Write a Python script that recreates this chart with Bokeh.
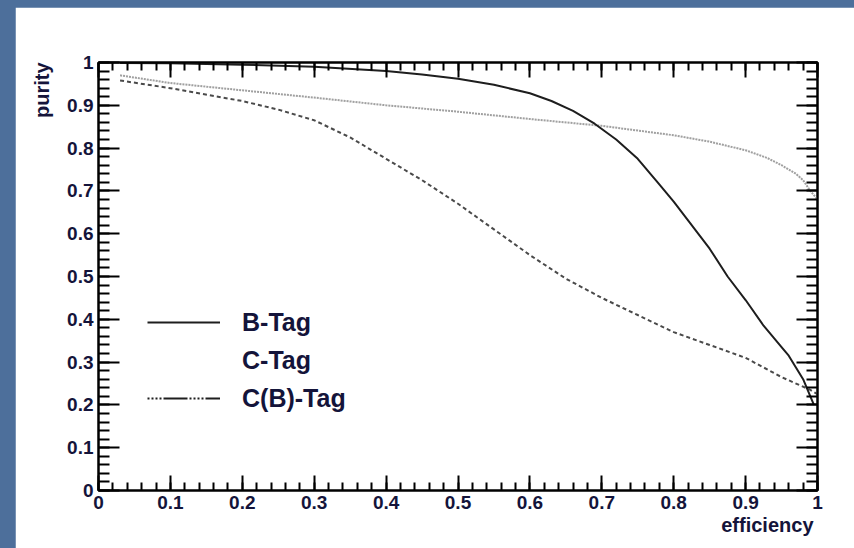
import numpy as np
from bokeh.plotting import figure
from bokeh.models import (LinearAxis, SingleIntervalTicker, CustomJSTickFormatter,
                          Legend, LegendItem, Title, Range1d)
from bokeh.layouts import column
from bokeh.embed import file_html
from bokeh.resources import INLINE

# ---------------- data ----------------
b_eff = [0.03, 0.1, 0.2, 0.3, 0.4, 0.45, 0.5, 0.55, 0.6, 0.63, 0.66, 0.69, 0.72,
         0.75, 0.78, 0.8, 0.85, 0.875, 0.9, 0.925, 0.95, 0.96, 0.98, 0.995]
b_pur = [0.999, 0.998, 0.995, 0.99, 0.98, 0.972, 0.962, 0.948, 0.928, 0.91,
         0.887, 0.857, 0.82, 0.775, 0.715, 0.675, 0.565, 0.50, 0.445, 0.385,
         0.335, 0.315, 0.26, 0.20]

c_eff = [0.03, 0.1, 0.2, 0.3, 0.4, 0.5, 0.6, 0.7, 0.8, 0.85, 0.9, 0.93, 0.95,
         0.97, 0.98, 0.99, 1.0]
c_pur = [0.97, 0.952, 0.935, 0.918, 0.9, 0.885, 0.868, 0.852, 0.83, 0.815,
         0.795, 0.777, 0.76, 0.74, 0.725, 0.70, 0.68]

cb_eff = [0.03, 0.1, 0.2, 0.25, 0.3, 0.35, 0.4, 0.45, 0.5, 0.55, 0.6, 0.65, 0.7,
          0.75, 0.8, 0.85, 0.9, 0.95, 0.99, 1.0]
cb_pur = [0.958, 0.94, 0.91, 0.89, 0.865, 0.825, 0.775, 0.725, 0.67, 0.61, 0.55,
          0.495, 0.45, 0.41, 0.37, 0.34, 0.31, 0.265, 0.235, 0.225]

legend_labels = ["B-Tag", "C-Tag", "C(B)-Tag"]
x_title = "efficiency"
y_title = "purity"

# ---------------- styling ----------------
BLUE = "#4d6f9b"
TXT = "#14143a"
FONT = "Liberation Sans"

p = figure(width=839, height=541, output_backend="svg", toolbar_location=None,
           x_range=Range1d(0, 1), y_range=Range1d(0, 1),
           min_border_left=83, min_border_right=37, min_border_top=55,
           min_border_bottom=58, x_axis_location=None, y_axis_location=None)
p.margin = (7, 0, 0, 15)
p.background_fill_color = "white"
p.border_fill_color = "white"
p.outline_line_color = "black"
p.outline_line_width = 2
p.xgrid.visible = False
p.ygrid.visible = False

fmt = CustomJSTickFormatter(code="return Number(tick.toFixed(2)).toString();")

def make_axis(show_labels, major, minor):
    ax = LinearAxis(ticker=SingleIntervalTicker(interval=0.1, num_minor_ticks=5))
    ax.formatter = fmt
    ax.axis_line_width = 2
    ax.axis_line_color = "black"
    ax.major_tick_line_width = 2
    ax.minor_tick_line_width = 2
    ax.major_tick_in = major
    ax.major_tick_out = 0
    ax.minor_tick_in = minor
    ax.minor_tick_out = 0
    if show_labels:
        ax.major_label_text_font = FONT
        ax.major_label_text_font_style = "bold"
        ax.major_label_text_font_size = "19px"
        ax.major_label_text_color = TXT
    else:
        ax.major_label_text_font_size = "0px"
        ax.major_label_text_alpha = 0
    return ax

bottom = make_axis(True, 15, 8)
bottom.major_label_standoff = 5
left = make_axis(True, 21, 11)
left.major_label_standoff = 5
top = make_axis(False, 15, 8)
right = make_axis(False, 21, 11)
p.add_layout(bottom, "below")
p.add_layout(left, "left")
p.add_layout(top, "above")
p.add_layout(right, "right")

# ---------------- axis titles (as side-panel titles) ----------------
p.add_layout(Title(text=x_title, align="right", standoff=0, offset=4,
                   text_font=FONT, text_font_style="bold", text_font_size="20px",
                   text_color=TXT), "below")
p.add_layout(Title(text=y_title, align="right", standoff=24,
                   text_font=FONT, text_font_style="bold", text_font_size="20px",
                   text_color=TXT), "left")

# ---------------- curves ----------------
r_c = p.line(c_eff, c_pur, line_color="#a0a0a0", line_width=2, line_dash="2 1")
r_cb = p.line(cb_eff, cb_pur, line_color="#4a4a4a", line_width=2, line_dash="4 3")
r_b = p.line(b_eff, b_pur, line_color="#1e1e1e", line_width=2)

# legend sample renderers (no visible data)
nan1 = np.array([np.nan])
leg_c = p.line(nan1, nan1, line_alpha=0)
leg_cb = p.line(nan1, nan1, line_color="#1e1e1e", line_width=2,
                line_dash="2 2 2 2 2 2 2 2 24 2")

legend = Legend(items=[LegendItem(label=legend_labels[0], renderers=[r_b]),
                       LegendItem(label=legend_labels[1], renderers=[leg_c]),
                       LegendItem(label=legend_labels[2], renderers=[leg_cb])],
                location=(49, 77), orientation="vertical")
legend.border_line_alpha = 0
legend.background_fill_alpha = 0
legend.padding = 0
legend.margin = 0
legend.spacing = 8
legend.glyph_width = 73
legend.glyph_height = 30
legend.label_height = 30
legend.label_standoff = 22
legend.label_text_font = FONT
legend.label_text_font_style = "bold"
legend.label_text_font_size = "25px"
legend.label_text_color = TXT
legend.label_text_baseline = "middle"
p.add_layout(legend)

page = column(p, styles={"background-color": BLUE})
page.width = 854
page.height = 548

open("out.html", "w").write(file_html(page, INLINE))
